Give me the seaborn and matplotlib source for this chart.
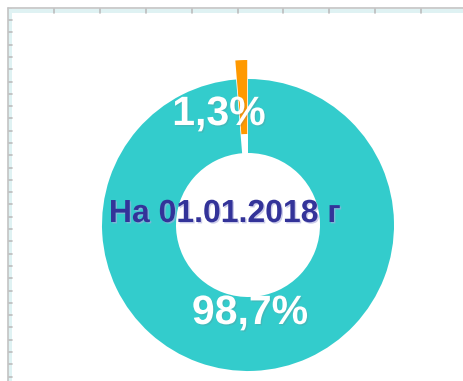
import matplotlib
matplotlib.use("Agg")
import matplotlib.pyplot as plt
import matplotlib.patheffects as pe
from matplotlib.patches import Rectangle
import seaborn as sns
import numpy as np

sns.set_theme(style="white")
plt.rcParams["font.family"] = ["Liberation Sans", "DejaVu Sans"]

# Data
shares = [98.7, 1.3]
slice_colors = ["#33CCCC", "#FF9900"]
center_title = "На 01.01.2018 г"

W, H = 463, 381
fig = plt.figure(figsize=(W / 100, H / 100), dpi=100)
fig.patch.set_facecolor("white")
ax = fig.add_axes([0, 0, 1, 1])
ax.set_xlim(0, W)
ax.set_ylim(0, H)
ax.set_axis_off()

# Sheet ruler along the top and left edges
ax.add_patch(Rectangle((8, H - 12.5), W - 8, 4, color="#dff2f3", lw=0, zorder=1))
ax.add_patch(Rectangle((8, 0), 4, H - 8, color="#dff2f3", lw=0, zorder=1))
ax.plot([8, W], [H - 8, H - 8], color="#c4c4c4", lw=1.2, zorder=2)
ax.plot([8, 8], [0, H - 8], color="#c4c4c4", lw=1.2, zorder=2)
for x in np.arange(54.3, W, 45.8):
    ax.plot([x, x], [H - 12.5, H - 8.5], color="#bdbdbd", lw=1.2, zorder=2)
for y in np.arange(20.0, H, 12.3):
    ax.plot([8.5, 12], [H - y, H - y], color="#bdbdbd", lw=1.2, zorder=2)

# Donut (explode offset is in data units here, since radius is in pixels)
cx, cy, R, ring = 248, H - 225, 146, 74
wedges, _ = ax.pie(
    shares,
    colors=slice_colors,
    explode=[0, 19],
    startangle=90,
    counterclock=False,
    radius=R,
    center=(cx, cy),
    wedgeprops=dict(width=ring, linewidth=0),
    frame=True,
)
ax.set_xlim(0, W)
ax.set_ylim(0, H)
ax.set_axis_off()

def pct(v):
    return f"{v:.1f}%".replace(".", ",")

label_pos = [(cx + 2, cy - 88), (cx - 29, cy + 111)]
for v, (x, y) in zip(shares, label_pos):
    ax.text(x, y, pct(v), ha="center", va="center", color="white",
            fontsize=29.5, fontweight="bold", zorder=5,
            path_effects=[pe.withSimplePatchShadow(offset=(1, -1), shadow_rgbFace="#777777", alpha=0.2)])

ax.text(cx - 23, cy + 11, center_title, ha="center", va="center", color="#333399",
        fontsize=23, fontweight="bold", zorder=5,
        path_effects=[pe.withSimplePatchShadow(offset=(1, -1), shadow_rgbFace="#aaaadd", alpha=0.6)])

fig.savefig("out.png", dpi=100, facecolor="white")
